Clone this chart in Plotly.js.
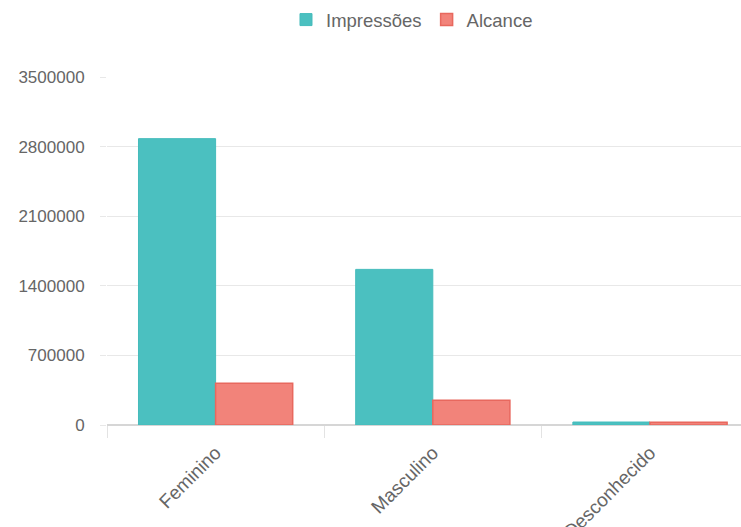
<!DOCTYPE html>
<html>
<head>
<meta charset="utf-8">
<script src="https://cdn.plot.ly/plotly-3.0.1.min.js"></script>
<style>
html,body{margin:0;padding:0;background:#fff;}
#chart{width:741px;height:527px;}
</style>
</head>
<body>
<div id="chart"></div>
<script>
const categories = ["Feminino", "Masculino", "Desconhecido"];
const impressoes = [2880000, 1565000, 30000];
const alcance = [420000, 250000, 28000];
const yTicks = [0, 700000, 1400000, 2100000, 2800000, 3500000];

const FONT = "Liberation Sans, Arial, sans-serif";
const traces = [
  {
    type: "bar", name: "Impressões", x: categories, y: impressoes,
    marker: {color: "#4bc0c0", line: {color: "#45bcbc", width: 1}},
    hoverinfo: "x+y"
  },
  {
    type: "bar", name: "Alcance", x: categories, y: alcance,
    marker: {color: "#f2837a", line: {color: "#e8685e", width: 1.5}},
    hoverinfo: "x+y"
  }
];

const layout = {
  width: 741, height: 527,
  margin: {l: 107, r: 0, t: 77, b: 102, pad: 0},
  paper_bgcolor: "#fff", plot_bgcolor: "#fff",
  font: {family: FONT, size: 17, color: "#666"},
  barmode: "group", bargap: 0.29, bargroupgap: 0,
  showlegend: true,
  legend: {
    orientation: "h", xref: "container", yref: "container",
    x: 0.556, xanchor: "center", y: 0.998, yanchor: "top",
    font: {family: FONT, size: 18.5, color: "#666"},
    itemwidth: 30, tracegroupgap: 0, bgcolor: "rgba(0,0,0,0)"
  },
  xaxis: {
    type: "category", range: [-0.5, 2.419], automargin: false,
    showgrid: false, zeroline: false, showline: false,
    ticks: "outside", tickson: "boundaries", ticklen: 12, tickcolor: "#e3e3e3", tickwidth: 1,
    ticklabelstandoff: 12,
    tickangle: -45, tickfont: {family: FONT, size: 19, color: "#666"}
  },
  yaxis: {
    range: [0, 3500000], automargin: false,
    tickmode: "array", tickvals: yTicks, ticktext: yTicks.map(v => String(v)),
    showgrid: true, gridcolor: "#e8e8e8", gridwidth: 1,
    zeroline: true, zerolinecolor: "#d6d6d6", zerolinewidth: 2,
    showline: false, ticks: "outside", ticklen: 6, tickcolor: "#e8e8e8",
    ticklabelstandoff: 12,
    tickfont: {family: FONT, size: 17, color: "#666"}
  }
};

Plotly.newPlot("chart", traces, layout, {displayModeBar: false, staticPlot: true});
</script>
</body>
</html>
